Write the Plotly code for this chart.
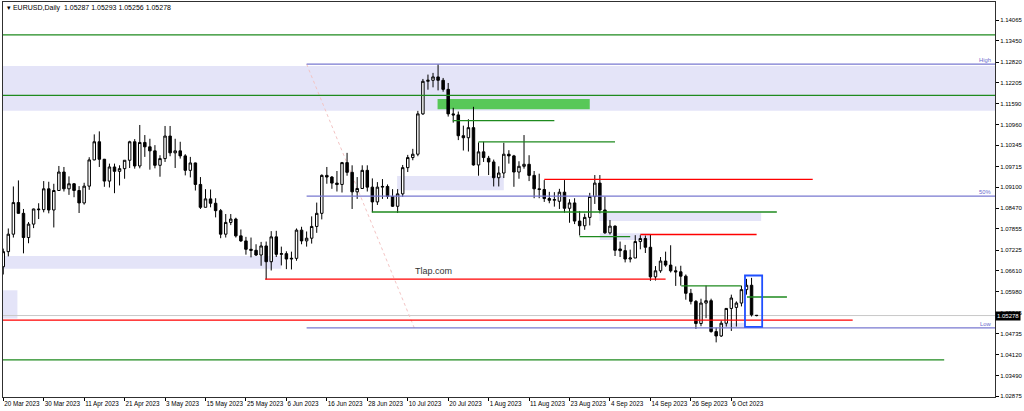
import pandas as pd
import plotly.graph_objects as go

# EURUSD daily candles, 20 Mar 2023 .. 13 Oct 2023 (weekdays)
dates = [d.strftime('%Y-%m-%d') for d in pd.bdate_range('2023-03-20', periods=150)]

opens = [
    1.0673, 1.0718, 1.0770, 1.0864, 1.0832, 1.0760, 1.0800, 1.0845, 1.0843, 1.0905,
    1.0842, 1.0900, 1.0955, 1.0905, 1.0920, 1.0900, 1.0863, 1.0913, 1.0991, 1.1045,
    1.0993, 1.0928, 1.0970, 1.0957, 1.0965, 1.0990, 1.1045, 1.0973, 1.1043, 1.1030,
    1.1018, 1.0975, 1.0995, 1.1062, 1.1012, 1.1018, 1.1003, 1.0960, 1.0982, 1.0918,
    1.0850, 1.0875, 1.0862, 1.0840, 1.0770, 1.0805, 1.0815, 1.0765, 1.0750, 1.0725,
    1.0722, 1.0708, 1.0735, 1.0688, 1.0762, 1.0710, 1.0712, 1.0696, 1.0698, 1.0782,
    1.0750, 1.0758, 1.0793, 1.0832, 1.0945, 1.0940, 1.0922, 1.0918, 1.0983, 1.0954,
    1.0896, 1.0906, 1.0960, 1.0910, 1.0866, 1.0910, 1.0912, 1.0882, 1.0853, 1.0890,
    1.0968, 1.0998, 1.1008, 1.1128, 1.1225, 1.1228, 1.1238, 1.1228, 1.1201, 1.1128,
    1.1125, 1.1063, 1.1057, 1.1087, 1.0976, 1.1015, 1.0996, 1.0985, 1.0938, 1.0952,
    1.1008, 1.1003, 1.0955, 1.0972, 1.0978, 1.0945, 1.0905, 1.0903, 1.0876, 1.0871,
    1.0868, 1.0895, 1.0847, 1.0863, 1.0809, 1.0795, 1.0820, 1.0882, 1.0922, 1.0842,
    1.0774, 1.0794, 1.0726, 1.0721, 1.0696, 1.0699, 1.0748, 1.0757, 1.0731, 1.0643,
    1.0661, 1.0690, 1.0678, 1.0661, 1.0658, 1.0645, 1.0594, 1.0570, 1.0504, 1.0565,
    1.0572, 1.0480, 1.0467, 1.0505, 1.0549, 1.0552, 1.0565, 1.0605, 1.0618, 1.05287,
]
highs = [
    1.0727, 1.0787, 1.0912, 1.0930, 1.0845, 1.0806, 1.0846, 1.0862, 1.0928, 1.0926,
    1.0920, 1.0973, 1.0970, 1.0942, 1.0922, 1.0913, 1.0923, 1.0999, 1.1067, 1.1076,
    1.0994, 1.0980, 1.0980, 1.0975, 1.0990, 1.1048, 1.1053, 1.1095, 1.1065, 1.1054,
    1.1035, 1.1005, 1.1092, 1.1092, 1.1054, 1.1045, 1.1008, 1.1000, 1.0983, 1.0940,
    1.0904, 1.0903, 1.0877, 1.0845, 1.0830, 1.0830, 1.0819, 1.0784, 1.0762, 1.0760,
    1.0740, 1.0747, 1.0748, 1.0779, 1.0780, 1.0733, 1.0719, 1.0718, 1.0787, 1.0792,
    1.0778, 1.0823, 1.0864, 1.0948, 1.0970, 1.0943, 1.0958, 1.0985, 1.1012, 1.0975,
    1.0940, 1.0975, 1.0975, 1.0936, 1.0925, 1.0934, 1.0918, 1.0904, 1.0904, 1.0976,
    1.1006, 1.1024, 1.1137, 1.1232, 1.1245, 1.1250, 1.1276, 1.1235, 1.1220, 1.1146,
    1.1135, 1.1093, 1.1112, 1.1149, 1.1043, 1.1045, 1.1003, 1.0992, 1.0972, 1.1042,
    1.1020, 1.1006, 1.0987, 1.1065, 1.1005, 1.0958, 1.0950, 1.0931, 1.0896, 1.0895,
    1.0905, 1.0931, 1.0874, 1.0877, 1.0839, 1.0831, 1.0893, 1.0946, 1.0946, 1.0882,
    1.0812, 1.0796, 1.0748, 1.0738, 1.0724, 1.0767, 1.0767, 1.0766, 1.0768, 1.0675,
    1.0702, 1.0718, 1.0737, 1.0674, 1.0676, 1.0650, 1.0607, 1.0574, 1.0578, 1.0617,
    1.0578, 1.0492, 1.0513, 1.0550, 1.0590, 1.0570, 1.0617, 1.0637, 1.0640, 1.05293,
]
lows = [
    1.0650, 1.0704, 1.0760, 1.0831, 1.0713, 1.0743, 1.0788, 1.0815, 1.0835, 1.0832,
    1.0790, 1.0900, 1.0897, 1.0887, 1.0880, 1.0833, 1.0858, 1.0902, 1.0990, 1.0970,
    1.0911, 1.0909, 1.0892, 1.0915, 1.0935, 1.0967, 1.0965, 1.0966, 1.1000, 1.0962,
    1.0966, 1.0941, 1.0985, 1.1002, 1.0967, 1.0995, 1.0945, 1.0939, 1.0900, 1.0845,
    1.0850, 1.0850, 1.0820, 1.0758, 1.0760, 1.0797, 1.0760, 1.0747, 1.0709, 1.0701,
    1.0705, 1.0676, 1.0635, 1.0662, 1.0702, 1.0677, 1.0666, 1.0665, 1.0691, 1.0740,
    1.0733, 1.0742, 1.0774, 1.0814, 1.0920, 1.0905, 1.0897, 1.0894, 1.0944, 1.0845,
    1.0875, 1.0905, 1.0897, 1.0835, 1.0857, 1.0875, 1.0875, 1.0851, 1.0833, 1.0881,
    1.0955, 1.0990, 1.1002, 1.1125, 1.1200, 1.1207, 1.1198, 1.1194, 1.1120, 1.1102,
    1.1050, 1.1019, 1.1016, 1.0974, 1.0944, 1.0985, 1.0946, 1.0912, 1.0912, 1.0937,
    1.0980, 1.0911, 1.0935, 1.0965, 1.0928, 1.0877, 1.0877, 1.0866, 1.0862, 1.0852,
    1.0845, 1.0834, 1.0804, 1.0800, 1.0766, 1.0783, 1.0796, 1.0860, 1.0832, 1.0771,
    1.0769, 1.0705, 1.0702, 1.0686, 1.0686, 1.0699, 1.0725, 1.0714, 1.0631, 1.0632,
    1.0655, 1.0673, 1.0656, 1.0616, 1.0617, 1.0575, 1.0561, 1.0488, 1.0496, 1.0520,
    1.0477, 1.0448, 1.0464, 1.0495, 1.0482, 1.0495, 1.0555, 1.0590, 1.0525, 1.05256,
]
closes = [
    1.0718, 1.0770, 1.0864, 1.0832, 1.0760, 1.0800, 1.0845, 1.0843, 1.0905, 1.0842,
    1.0900, 1.0955, 1.0905, 1.0920, 1.0900, 1.0863, 1.0913, 1.0991, 1.1045, 1.0993,
    1.0928, 1.0970, 1.0957, 1.0965, 1.0990, 1.1045, 1.0973, 1.1043, 1.1030, 1.1018,
    1.0975, 1.0995, 1.1062, 1.1012, 1.1018, 1.1003, 1.0960, 1.0982, 1.0918, 1.0850,
    1.0875, 1.0862, 1.0840, 1.0770, 1.0805, 1.0815, 1.0765, 1.0750, 1.0725, 1.0722,
    1.0708, 1.0735, 1.0688, 1.0762, 1.0710, 1.0712, 1.0696, 1.0698, 1.0782, 1.0750,
    1.0758, 1.0793, 1.0832, 1.0945, 1.0940, 1.0922, 1.0918, 1.0983, 1.0954, 1.0896,
    1.0906, 1.0960, 1.0910, 1.0866, 1.0910, 1.0912, 1.0882, 1.0853, 1.0890, 1.0968,
    1.0998, 1.1008, 1.1128, 1.1225, 1.1228, 1.1238, 1.1228, 1.1201, 1.1128, 1.1125,
    1.1063, 1.1057, 1.1087, 1.0976, 1.1015, 1.0998, 1.0985, 1.0938, 1.0952, 1.1008,
    1.1003, 1.0955, 1.0972, 1.0978, 1.0945, 1.0905, 1.0903, 1.0876, 1.0871, 1.0873,
    1.0895, 1.0847, 1.0863, 1.0809, 1.0795, 1.0820, 1.0882, 1.0922, 1.0842, 1.0774,
    1.0794, 1.0722, 1.0721, 1.0696, 1.0699, 1.0748, 1.0757, 1.0731, 1.0643, 1.0661,
    1.0690, 1.0678, 1.0661, 1.0658, 1.0645, 1.0594, 1.0570, 1.0504, 1.0565, 1.0572,
    1.0480, 1.0467, 1.0505, 1.0549, 1.0580, 1.0565, 1.0605, 1.0618, 1.0530, 1.05278,
]

# axis labels
x_label_dates = ['2023-03-20', '2023-03-30', '2023-04-11', '2023-04-21', '2023-05-03',
                 '2023-05-15', '2023-05-25', '2023-06-06', '2023-06-16', '2023-06-28',
                 '2023-07-10', '2023-07-20', '2023-08-01', '2023-08-11', '2023-08-23',
                 '2023-09-04', '2023-09-14', '2023-09-26', '2023-10-06']
x_label_text = ['20 Mar 2023', '30 Mar 2023', '11 Apr 2023', '21 Apr 2023', '3 May 2023',
                '15 May 2023', '25 May 2023', '6 Jun 2023', '16 Jun 2023', '28 Jun 2023',
                '10 Jul 2023', '20 Jul 2023', '1 Aug 2023', '11 Aug 2023', '23 Aug 2023',
                '4 Sep 2023', '14 Sep 2023', '26 Sep 2023', '6 Oct 2023']
y_ticks = [1.14065, 1.13450, 1.12820, 1.12205, 1.11590, 1.10960, 1.10345, 1.09715,
           1.09100, 1.08470, 1.07855, 1.07225, 1.06610, 1.05980, 1.05365, 1.04735,
           1.04120, 1.03490, 1.02875]

# drawn objects: (price, start bar, end bar)
green_lines = [(1.1363, -1, 200), (1.1183, -1, 200), (1.1108, 88.9, 109), (1.1045, 94, 121),
               (1.0836, 72.9, 153), (1.0763, 114, 124), (1.0616, 134.1, 145.9),
               (1.0583, 147.1, 155), (1.0396, -1, 186.1)]
red_lines = [(1.0933, 107, 160.1), (1.0769, 126, 149), (1.0636, 51.8, 131), (1.0514, -1, 168)]
# zones: (start bar, end bar, low, high)
lavender_zones = [(-1, 200, 1.11375, 1.12705), (-1, 55, 1.0667, 1.0705), (-1, 2.8, 1.0519, 1.0603),
                  (77.9, 99, 1.0901, 1.0943), (117.9, 149.9, 1.0809, 1.0834),
                  (118, 128, 1.0753, 1.0773), (141.8, 146.8, 1.0491, 1.0506)]
lime_zone = (85.9, 116, 1.1142, 1.1172)
blue_box = (146.7, 150.1, 1.0494, 1.0647)
fib_start, fib_end = 60, 81.3
fib_high, fib_low = 1.1276, 1.0491
last_price = 1.05278

x = list(range(len(dates)))
tickvals = [dates.index(d) for d in x_label_dates]

fig = go.Figure()

fig.add_trace(go.Candlestick(
    x=x, open=opens, high=highs, low=lows, close=closes,
    text=dates, hoverinfo='text+y',
    increasing=dict(line=dict(color='black', width=1), fillcolor='white'),
    decreasing=dict(line=dict(color='black', width=1), fillcolor='black'),
    whiskerwidth=0,
))

for x0, x1, lo, hi in lavender_zones:
    fig.add_shape(type='rect', x0=x0, x1=x1, y0=lo, y1=hi, xref='x', yref='y',
                  fillcolor='#e4e4f8', line=dict(width=0), layer='below')

fig.add_shape(type='rect', x0=lime_zone[0], x1=lime_zone[1], y0=lime_zone[2], y1=lime_zone[3],
              fillcolor='#58c858', line=dict(width=0), layer='below')

# current price line
fig.add_shape(type='line', x0=-1, x1=200, y0=last_price, y1=last_price,
              line=dict(color='#c8c8c8', width=1), layer='below')

# fibonacci levels
fib_mid = (fib_high + fib_low) / 2
for lvl in [fib_high, fib_mid, fib_low]:
    fig.add_shape(type='line', x0=fib_start, x1=200, y0=lvl, y1=lvl,
                  line=dict(color='#7878d0', width=1.3), layer='above')
fig.add_shape(type='line', x0=fib_start, x1=fib_end, y0=fib_high, y1=fib_low,
              line=dict(color='#f3c4c4', width=1, dash='dot'), layer='below')

for p, x0, x1 in green_lines:
    fig.add_shape(type='line', x0=x0, x1=x1, y0=p, y1=p,
                  line=dict(color='#1e8a1e', width=1.3), layer='above')
for p, x0, x1 in red_lines:
    fig.add_shape(type='line', x0=x0, x1=x1, y0=p, y1=p,
                  line=dict(color='#ff0000', width=1.3), layer='above')

fig.add_shape(type='rect', x0=blue_box[0], x1=blue_box[1], y0=blue_box[2], y1=blue_box[3],
              line=dict(color='#1f4fff', width=1.8), layer='above')

# texts
fig.add_annotation(xref='paper', yref='paper', x=0.002, y=0.999, xanchor='left', yanchor='top',
                   text='▾ EURUSD,Daily  1.05287 1.05293 1.05256 1.05278', showarrow=False,
                   font=dict(family='Liberation Sans', size=7, color='black'))
fig.add_annotation(x=85.1, y=1.0660, text='Tlap.com', showarrow=False,
                   font=dict(family='Liberation Sans', size=9, color='#333333'))
for lbl, lvl in [('High', fib_high), ('50%', fib_mid), ('Low', fib_low)]:
    fig.add_annotation(xref='paper', x=0.998, y=lvl, xanchor='right', yanchor='bottom',
                       text=lbl, showarrow=False, yshift=-1,
                       font=dict(family='Liberation Sans', size=5.8, color='#6a6acd'))
fig.add_annotation(xref='paper', x=1.0, y=last_price, xanchor='left', yanchor='middle',
                   text='1.05278', showarrow=False, bgcolor='black', borderpad=1,
                   font=dict(family='Liberation Sans', size=6, color='white'))

fig.update_layout(
    width=1024, height=411,
    margin=dict(l=3, r=29, t=2, b=14, autoexpand=False),
    paper_bgcolor='white', plot_bgcolor='white',
    showlegend=False,
    xaxis=dict(range=[-0.05, 196.15], tickvals=tickvals, ticktext=x_label_text, tickangle=0,
               ticks='outside', ticklen=3, tickcolor='black', ticklabelposition='outside right',
               showgrid=False, zeroline=False, showline=True, linecolor='#303030', mirror=True,
               rangeslider=dict(visible=False),
               tickfont=dict(family='Liberation Sans', size=6.3, color='black')),
    yaxis=dict(side='right', range=[1.02854, 1.14610], tickvals=y_ticks, tickformat='.5f',
               ticks='outside', ticklen=3, tickcolor='black',
               showgrid=False, zeroline=False, showline=True, linecolor='#303030', mirror=True,
               tickfont=dict(family='Liberation Sans', size=6, color='black')),
)

# drop the default page margin so the chart sits at the window's top-left corner
fig.write_html("out.html", config={'displayModeBar': False},
               post_script="document.body.style.margin='0';")
